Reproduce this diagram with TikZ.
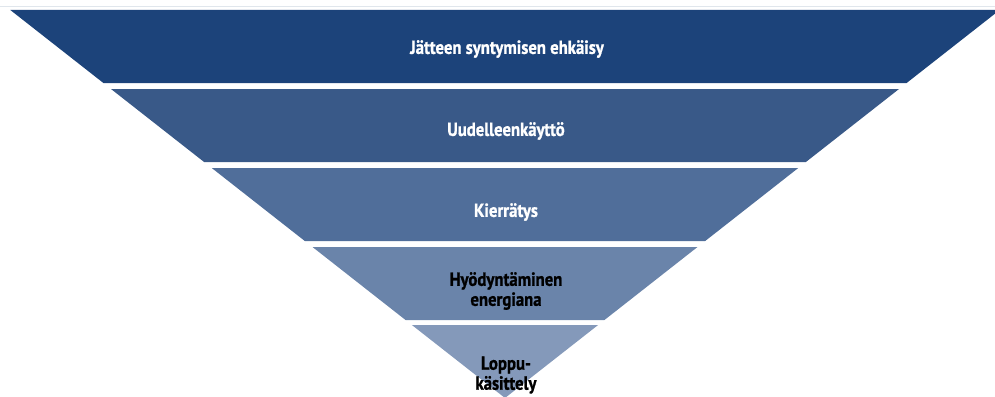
\documentclass[tikz,border=0pt]{standalone}
\usepackage{fontspec}
\newfontfamily\labelfont{PT Sans}[FakeStretch=0.88, BoldFeatures={FakeBold=1}]
\definecolor{bandA}{RGB}{28,67,122}
\definecolor{bandB}{RGB}{57,89,136}
\definecolor{bandC}{RGB}{80,110,154}
\definecolor{bandD}{RGB}{106,132,170}
\definecolor{bandE}{RGB}{132,153,186}
\definecolor{rulegray}{RGB}{224,230,236}
\begin{document}
\begin{tikzpicture}[x=1pt,y=-1pt,
  lbl/.style={font=\labelfont\bfseries\fontsize{19}{20}\selectfont, align=center, inner sep=0pt},
  lightlbl/.style={lbl, text=white},
  darklbl/.style={lbl, text=black}]
\useasboundingbox (0,0) rectangle (995,396);
\clip (0,0) rectangle (995,396);
\draw[rulegray, line width=1pt] (0,7) -- (995,7);
\fill[bandA] (10.3,10) -- (999.7,10) -- (906.6,83) -- (103.4,83) -- cycle;
\fill[bandB] (111.0,89) -- (899.0,89) -- (805.9,162) -- (204.1,162) -- cycle;
\fill[bandC] (211.75,168) -- (798.25,168) -- (705.2,241) -- (304.8,241) -- cycle;
\fill[bandD] (312.5,247) -- (697.5,247) -- (604.45,320) -- (405.55,320) -- cycle;
\fill[bandE] (411.9,325) -- (598.1,325) -- (505,398) -- cycle;
\node[lightlbl] (t1) at (507,49) {Jätteen syntymisen ehkäisy};
\node[lightlbl] (t2) at (506,131) {Uudelleenkäyttö};
\node[lightlbl] (t3) at (506,212) {Kierrätys};
\node[darklbl] (t4) at (506,291) {Hyödyntäminen\\energiana};
\node[darklbl] (t5) at (506,375) {Loppu-\\käsittely};
\end{tikzpicture}
\end{document}
